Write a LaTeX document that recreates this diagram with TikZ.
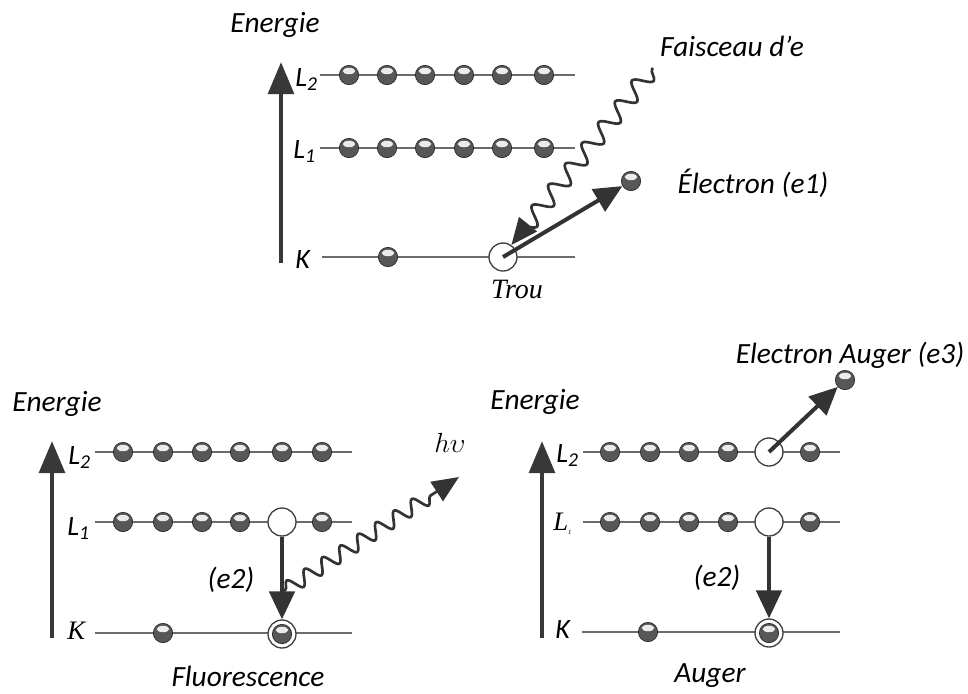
\documentclass[tikz,border=0pt]{standalone}
\usepackage{fontspec}
\setmainfont{Carlito}
\newfontfamily\serifit{Liberation Serif}
\usetikzlibrary{arrows.meta,decorations.pathmorphing}
\begin{document}
\begin{tikzpicture}[x=0.75pt,y=-0.75pt,
  lab/.style={font=\fontsize{22}{26}\selectfont\itshape, inner sep=0pt},
  lvl/.style={font=\fontsize{21}{24}\selectfont\itshape, inner sep=0pt, anchor=base west},
  level/.style={draw=black!58, line width=1.2pt},
  axis/.style={draw=black!78, line width=3.6pt, -{Triangle[length=24pt,width=19pt]}},
  tarrow/.style={draw=black!80, line width=3pt, -{Triangle[length=21pt,width=19pt]}},
  electron/.style={circle, inner sep=0pt, minimum size=14.5pt, draw=black!85, line width=0.5pt, fill=black!66,
    path picture={\fill[white!92!black] ([yshift=3pt]path picture bounding box.center) ellipse (4.7pt and 2.4pt);}},
  hole/.style={circle, inner sep=0pt, minimum size=21pt, draw=black!75, line width=1pt, fill=white},
  ring/.style={circle, inner sep=0pt, minimum size=21pt, draw=black!75, line width=1pt, fill=white},
  wave/.style={draw=black!80, line width=2pt, decorate,
    decoration={snake, segment length=20pt, amplitude=6.5pt, pre length=1pt, post length=12pt},
    -{Triangle[length=20pt,width=17pt]}}
]
\useasboundingbox (0,0) rectangle (968,693);

% ---------------- top diagram ----------------
\node[lab] (en1) at (275,25) {Energie};
\coordinate (ax1b) at (281,263);
\coordinate (ax1t) at (281,62);
\draw[axis] (ax1b) -- (ax1t);
\node[lvl] (tL2) at (295,86) {L\textsubscript{2}};
\node[lvl] (tL1) at (293,158) {L\textsubscript{1}};
\node[lvl] (tK) at (295,268) {K};
\coordinate (tl2a) at (320,75); \coordinate (tl2b) at (575,75);
\coordinate (tl1a) at (320,148); \coordinate (tl1b) at (575,148);
\coordinate (tka) at (322,257); \coordinate (tkb) at (575,257);
\draw[level] (tl2a) -- (tl2b);
\draw[level] (tl1a) -- (tl1b);
\draw[level] (tka) -- (tkb);
\foreach \x [count=\i] in {349,387,425,464,502,544} {
  \node[electron] (t2e\i) at (\x,75) {};
  \node[electron] (t1e\i) at (\x,148) {};
}
\node[electron] (tke1) at (388,257) {};
\node[hole] (hole1) at (503,257) {};
\node[electron] (e1) at (631,181) {};
\node[font=\fontsize{21}{24}\selectfont\serifit\itshape, inner sep=0pt] (trou) at (517,289) {Trou};
\node[lab] (fsc) at (732,46) {Faisceau d’e};
\node[lab] (el1) at (753,183) {Électron (e1)};
\coordinate (w1s) at (653,68);
\draw[wave] (w1s) -- (hole1.55);
\draw[tarrow] (hole1.center) -- (e1);

% ---------------- bottom left: fluorescence ----------------
\node[lab] (en2) at (57,404) {Energie};
\coordinate (ax2b) at (52,638);
\coordinate (ax2t) at (52,441);
\draw[axis] (ax2b) -- (ax2t);
\node[lvl] (fL2) at (68,464) {L\textsubscript{2}};
\node[lvl] (fL1) at (67,535) {L\textsubscript{1}};
\node[lvl, font=\fontsize{20}{22}\selectfont\serifit\itshape] (fK) at (67,639) {K};
\coordinate (fl2a) at (95,452); \coordinate (fl2b) at (352,452);
\coordinate (fl1a) at (95,522); \coordinate (fl1b) at (352,522);
\coordinate (fka) at (95,633); \coordinate (fkb) at (352,633);
\draw[level] (fl2a) -- (fl2b);
\draw[level] (fl1a) -- (fl1b);
\draw[level] (fka) -- (fkb);
\foreach \x [count=\i] in {123,163,202,240,282,322} {
  \node[electron] (f2e\i) at (\x,452) {};
}
\foreach \x [count=\i] in {123,163,202,240,322} {
  \node[electron] (f1e\i) at (\x,522) {};
}
\node[hole] (hole2) at (282,522) {};
\node[electron] (fke1) at (163,633) {};
\node[ring] (ring2) at (282,634) {};
\node[electron] (fke2) at (282,634) {};
\draw[tarrow] (hole2.south) -- (ring2.north);
\node[lab] (fe2) at (231,580) {(e2)};
\coordinate (ph0) at (284,591);
\coordinate (ph1) at (459,477);
\draw[wave, decoration={segment length=16pt, amplitude=5.5pt, post length=20pt}] (ph0) -- (ph1);
\node[font=\fontsize{22}{24}\selectfont, inner sep=0pt] (hv) at (450,443) {$h\upsilon$};
\node[lab] (fluo) at (248,676) {Fluorescence};

% ---------------- bottom right: Auger ----------------
\node[lab] (en3) at (535,402) {Energie};
\coordinate (ax3b) at (542,638);
\coordinate (ax3t) at (542,441);
\draw[axis] (ax3b) -- (ax3t);
\node[lvl] (aL2) at (556,462) {L\textsubscript{2}};
\node[lvl, font=\fontsize{20}{22}\selectfont\serifit\itshape] (aL1) at (553,530) {L\textsubscript{\tiny 1}};
\node[lvl] (aK) at (555,638) {K};
\coordinate (al2a) at (583,452); \coordinate (al2b) at (840,452);
\coordinate (al1a) at (583,522); \coordinate (al1b) at (840,522);
\coordinate (aka) at (582,632); \coordinate (akb) at (840,632);
\draw[level] (al2a) -- (al2b);
\draw[level] (al1a) -- (al1b);
\draw[level] (aka) -- (akb);
\foreach \x [count=\i] in {610,650,689,728,810} {
  \node[electron] (a2e\i) at (\x,452) {};
  \node[electron] (a1e\i) at (\x,522) {};
}
\node[hole] (hole3) at (769,452) {};
\node[hole] (hole4) at (769,522) {};
\node[electron] (ake1) at (648,632) {};
\node[ring] (ring4) at (769,633) {};
\node[electron] (ake2) at (769,633) {};
\draw[tarrow] (hole4.south) -- (ring4.north);
\node[lab] (ae2) at (717,578) {(e2)};
\node[electron] (ea) at (845,380) {};
\draw[tarrow] (hole3.center) -- (ea);
\node[lab] (eal) at (850,355) {Electron Auger (e3)};
\node[lab] (aug) at (710,676) {Auger};
\end{tikzpicture}
\end{document}
